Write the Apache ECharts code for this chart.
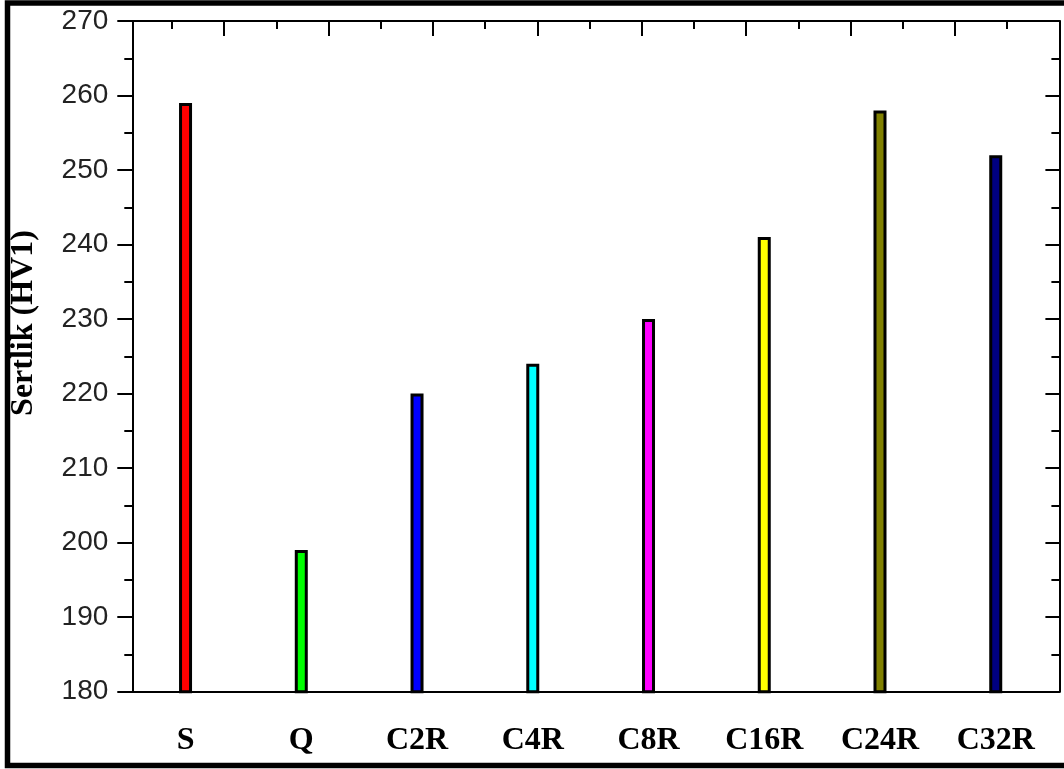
<!DOCTYPE html>
<html>
<head>
<meta charset="utf-8">
<script src="https://cdn.jsdelivr.net/npm/echarts@6/dist/echarts.min.js"></script>
<style>html,body{margin:0;padding:0;background:#fff;}#c{width:1064px;height:769px;}</style>
</head>
<body>
<div id="c"></div>
<script>
const categories = ['S', 'Q', 'C2R', 'C4R', 'C8R', 'C16R', 'C24R', 'C32R'];
const hardness = [259, 199, 220, 224, 230, 241, 258, 252];
const barColors = ['#FF0000', '#00FF00', '#0000FF', '#00FFFF', '#FF00FF', '#FFFF00', '#808000', '#000080'];
const yTicks = [180, 190, 200, 210, 220, 230, 240, 250, 260, 270];
const yTitle = 'Sertlik (HV1)';
const topMajor = [0, 1, 2, 3, 4, 5, 6, 7, 8];
const topMinor = [-0.5, 0.5, 1.5, 2.5, 3.5, 4.5, 5.5, 6.5, 7.5];

const chart = echarts.init(document.getElementById('c'), null, {renderer: 'canvas'});
const axisLine = {show: true, onZero: false, lineStyle: {color: '#000', width: 2}};
const option = {
  animation: false,
  backgroundColor: '#fff',
  grid: {left: 132.3, top: 21, right: 4.6, bottom: 77.3, containLabel: false, outerBoundsMode: 'none'},
  xAxis: [
    {
      type: 'value', position: 'bottom', min: -0.46, max: 7.55,
      axisLine: axisLine,
      axisTick: {show: false},
      splitLine: {show: false},
      axisLabel: {
        customValues: categories.map((c, i) => i),
        formatter: v => categories[Math.round(v)],
        fontFamily: 'Liberation Serif', fontWeight: 'bold', fontSize: 32, color: '#000', margin: 33
      }
    },
    {
      type: 'value', position: 'top', min: -0.88, max: 8,
      axisLine: axisLine,
      axisTick: {show: true, inside: true, length: 15, customValues: topMajor, lineStyle: {color: '#000', width: 2}},
      axisLabel: {show: false},
      splitLine: {show: false}
    },
    {
      type: 'value', position: 'top', min: -0.88, max: 8,
      axisLine: {show: false, onZero: false},
      axisTick: {show: true, inside: true, length: 8, customValues: topMinor, lineStyle: {color: '#000', width: 2}},
      axisLabel: {show: false},
      splitLine: {show: false}
    }
  ],
  yAxis: [
    {
      type: 'value', position: 'left', min: yTicks[0], max: yTicks[yTicks.length - 1], interval: 10,
      axisLine: axisLine,
      axisTick: {show: true, inside: false, length: 15, lineStyle: {color: '#000', width: 2}},
      minorTick: {show: true, splitNumber: 2, length: 8, lineStyle: {color: '#000', width: 2}},
      axisLabel: {fontFamily: 'Liberation Sans', fontSize: 28, color: '#222', margin: 24},
      splitLine: {show: false}
    },
    {
      type: 'value', position: 'right', min: yTicks[0], max: yTicks[yTicks.length - 1], interval: 10,
      axisLine: axisLine,
      axisTick: {show: true, inside: true, length: 14, lineStyle: {color: '#000', width: 2}},
      minorTick: {show: true, splitNumber: 2, length: 8, lineStyle: {color: '#000', width: 2}},
      axisLabel: {show: false},
      splitLine: {show: false}
    }
  ],
  series: [{
    type: 'bar',
    xAxisIndex: 0, yAxisIndex: 0,
    barWidth: 13,
    data: hardness.map((v, i) => ({value: [i, v], itemStyle: {color: barColors[i]}})),
    itemStyle: {borderColor: '#000', borderWidth: 3}
  }],
  graphic: [
    {
      type: 'text', x: 24, y: 323, rotation: Math.PI / 2,
      style: {text: yTitle, font: 'bold 32px "Liberation Serif"', fill: '#000', align: 'center', verticalAlign: 'middle'}
    },
    {
      type: 'rect', shape: {x: 7.5, y: 3, width: 1100, height: 762.5},
      style: {fill: 'none', stroke: '#000', lineWidth: 5.5}
    }
  ]
};
chart.setOption(option);
</script>
</body>
</html>
